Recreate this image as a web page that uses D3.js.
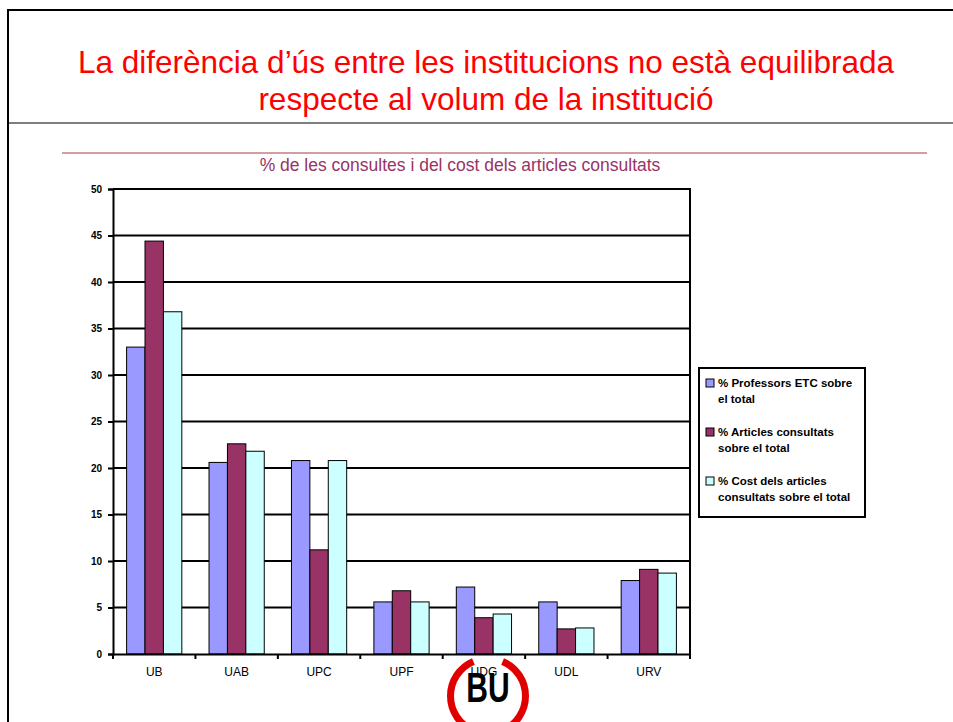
<!DOCTYPE html>
<html><head><meta charset="utf-8">
<script src="https://cdn.jsdelivr.net/npm/d3@7"></script>
<style>body{margin:0;background:#fff;} svg{display:block;}</style>
</head><body>
<script>
const categories = ["UB","UAB","UPC","UPF","UDG","UDL","URV"];
const seriesNames = ["% Professors ETC sobre el total","% Articles consultats sobre el total","% Cost dels articles consultats sobre el total"];
const legendLines = [["% Professors ETC sobre","el total"],["% Articles consultats","sobre el total"],["% Cost dels articles","consultats sobre el total"]];
const professors = [33.0, 20.6, 20.8, 5.6, 7.2, 5.6, 7.9];
const articles   = [44.4, 22.6, 11.2, 6.8, 3.9, 2.7, 9.1];
const cost       = [36.8, 21.8, 20.8, 5.6, 4.3, 2.8, 8.7];
const yTicks = [0,5,10,15,20,25,30,35,40,45,50];
const colors = ["#9999FF","#993366","#CCFFFF"];
const series = [professors, articles, cost];

(function(){
const W=953,H=722;
const svg=d3.select("body").append("svg").attr("width",W).attr("height",H);
svg.append("rect").attr("width",W).attr("height",H).attr("fill","#fff");

// slide frame
svg.append("line").attr("x1",8).attr("x2",W).attr("y1",10).attr("y2",10).attr("stroke","#000").attr("stroke-width",2);
svg.append("line").attr("x1",8).attr("x2",8).attr("y1",9).attr("y2",H).attr("stroke","#000").attr("stroke-width",2);
svg.append("line").attr("x1",8).attr("x2",W).attr("y1",123).attr("y2",123).attr("stroke","#000").attr("stroke-width",1);
svg.append("line").attr("x1",62).attr("x2",927).attr("y1",153).attr("y2",153).attr("stroke","#C08080").attr("stroke-width",1.5);

// title
const title = svg.append("text").attr("text-anchor","middle").attr("fill","#FF0000")
  .attr("font-family","Liberation Sans, Arial, sans-serif").attr("font-size",31.5);
title.append("tspan").attr("x",486).attr("y",73).text("La diferència d’ús entre les institucions no està equilibrada");
title.append("tspan").attr("x",486).attr("y",110).text("respecte al volum de la institució");

svg.append("text").attr("x",460).attr("y",171).attr("text-anchor","middle").attr("fill","#993366")
  .attr("font-family","Liberation Sans, Arial, sans-serif").attr("font-size",17.5)
  .text("% de les consultes i del cost dels articles consultats");

// chart
const left=113,right=690,topY=189,bottom=654;
const x=d3.scaleBand().domain(categories).range([left,right]).paddingInner(0.33).paddingOuter(0.165);
const xs=d3.scaleBand().domain([0,1,2]).range([0,x.bandwidth()]);
const y=d3.scaleLinear().domain([0,50]).range([bottom,topY]);

// gridlines
svg.append("g").selectAll("line").data(yTicks.filter(d=>d>0)).join("line")
  .attr("x1",left).attr("x2",right).attr("y1",d=>y(d)).attr("y2",d=>y(d))
  .attr("stroke","#000").attr("stroke-width",2);
// right border
svg.append("line").attr("x1",right).attr("x2",right).attr("y1",topY-1).attr("y2",bottom+5).attr("stroke","#000").attr("stroke-width",2);

// bars
const g=svg.append("g");
series.forEach((s,si)=>{
  g.append("g").selectAll("rect").data(s).join("rect")
    .attr("x",(d,i)=>x(categories[i])+xs(si))
    .attr("y",d=>y(d)).attr("width",xs.bandwidth()).attr("height",d=>bottom-y(d))
    .attr("fill",colors[si]).attr("stroke","#000").attr("stroke-width",1);
});

// y axis
const yAxis=svg.append("g").attr("transform",`translate(${left},0)`)
  .call(d3.axisLeft(y).tickValues(yTicks).tickSize(5).tickPadding(6));
yAxis.select(".domain").attr("stroke","#000").attr("stroke-width",2);
yAxis.selectAll(".tick line").attr("stroke","#000").attr("stroke-width",2);
yAxis.selectAll("text").attr("font-family","Liberation Sans, Arial, sans-serif").attr("font-size",10).attr("font-weight","bold").attr("fill","#000");

// BU logo (behind axis labels)
const logo=svg.append("g").attr("transform","translate(488,696)");
const arc=d3.arc().innerRadius(34).outerRadius(41);
logo.append("path").attr("d",arc({startAngle:0.4,endAngle:Math.PI-0.4})).attr("fill","#E00000");
logo.append("path").attr("d",arc({startAngle:Math.PI+0.4,endAngle:2*Math.PI-0.4})).attr("fill","#E00000");
logo.append("text").attr("transform","translate(0,6) scale(1,1.4)").attr("text-anchor","middle").attr("font-family","Liberation Sans, Arial, sans-serif")
  .attr("font-weight","bold").attr("font-size",30).attr("fill","#000").text("BU");

// x axis
const xAxis=svg.append("g").attr("transform",`translate(0,${bottom})`)
  .call(d3.axisBottom(x).tickSize(0).tickPadding(13));
xAxis.select(".domain").attr("stroke","#000").attr("stroke-width",2);
xAxis.selectAll("text").attr("font-family","Liberation Sans, Arial, sans-serif").attr("font-size",12).attr("fill","#000");
// category separators
const step=(right-left)/categories.length;
svg.append("g").selectAll("line").data(d3.range(categories.length+1)).join("line")
  .attr("x1",i=>left+i*step).attr("x2",i=>left+i*step).attr("y1",bottom).attr("y2",bottom+5)
  .attr("stroke","#000").attr("stroke-width",2);

// legend
svg.append("rect").attr("x",699).attr("y",368).attr("width",166).attr("height",149).attr("fill","#fff").attr("stroke","#000").attr("stroke-width",2);
const lg=svg.append("g");
legendLines.forEach((ls,i)=>{
  const yy=386+i*49;
  lg.append("rect").attr("x",706).attr("y",yy-7).attr("width",8).attr("height",8).attr("fill",colors[i]).attr("stroke","#000").attr("stroke-width",1);
  const t=lg.append("text").attr("font-family","Liberation Sans, Arial, sans-serif").attr("font-size",11.5).attr("font-weight","bold").attr("fill","#000");
  t.append("tspan").attr("x",718).attr("y",yy+1).text(ls[0]);
  t.append("tspan").attr("x",718).attr("y",yy+17).text(ls[1]);
});
})();
</script>
</body></html>
